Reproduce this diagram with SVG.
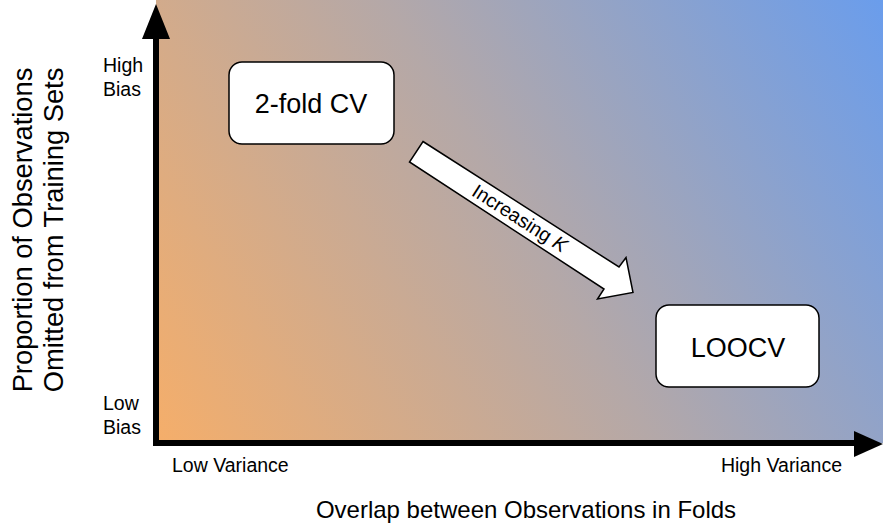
<svg xmlns="http://www.w3.org/2000/svg" width="883" height="529" viewBox="0 0 883 529">
<style>
text{font-family:"Liberation Sans",Arial,sans-serif;fill:#000}
.box{fill:#fff;stroke:#000;stroke-width:1.5}
.lbl{font-size:19.5px}
.big{font-size:27px;text-anchor:middle}
.title{font-size:24px;text-anchor:middle}
.vtitle{font-size:27.3px;text-anchor:middle}
</style>
<defs>
<linearGradient id="bg" gradientUnits="userSpaceOnUse" x1="157" y1="442" x2="883" y2="0">
<stop offset="0" stop-color="#F5AE6A"/>
<stop offset="0.5" stop-color="#B4A8A8"/>
<stop offset="1" stop-color="#6A9DEC"/>
</linearGradient>
</defs>
<rect x="156" y="0" width="727" height="443" fill="url(#bg)"/>
<g id="axes">
<rect x="153" y="30" width="6" height="416"/>
<polygon points="156,4 170,39 142,39"/>
<rect x="153" y="440" width="705" height="6"/>
<polygon points="883,444 854,431 854,457"/>
</g>
<g id="axis-labels">
<text class="lbl" x="103" y="72">High</text>
<text class="lbl" x="103" y="96">Bias</text>
<text class="lbl" x="103" y="410">Low</text>
<text class="lbl" x="103" y="434">Bias</text>
<text class="lbl" x="172" y="472">Low Variance</text>
<text class="lbl" x="842" y="472" text-anchor="end">High Variance</text>
<text class="title" x="526" y="518">Overlap between Observations in Folds</text>
<g transform="translate(0,230) rotate(-90)">
<text class="vtitle" x="0" y="32">Proportion of Observations</text>
<text class="vtitle" x="0" y="63">Omitted from Training Sets</text>
</g>
</g>
<g id="node-2fold">
<rect class="box" x="229" y="62" width="165" height="82" rx="13"/>
<text class="big" x="311" y="113">2-fold CV</text>
</g>
<g id="node-loocv">
<rect class="box" x="656" y="305" width="163" height="82" rx="13"/>
<text class="big" x="738" y="357">LOOCV</text>
</g>
<g id="connectors">
<polygon points="423,141.5 619,267 626,257.5 633,292.5 597.5,299 604,289 409.5,162" fill="#fff" stroke="#000" stroke-width="1.5" stroke-linejoin="miter"/>
<text x="0" y="0" font-size="19.5" text-anchor="middle" transform="translate(520,218) rotate(32.6)" dy="7">Increasing <tspan font-style="italic">K</tspan></text>
</g>
</svg>
